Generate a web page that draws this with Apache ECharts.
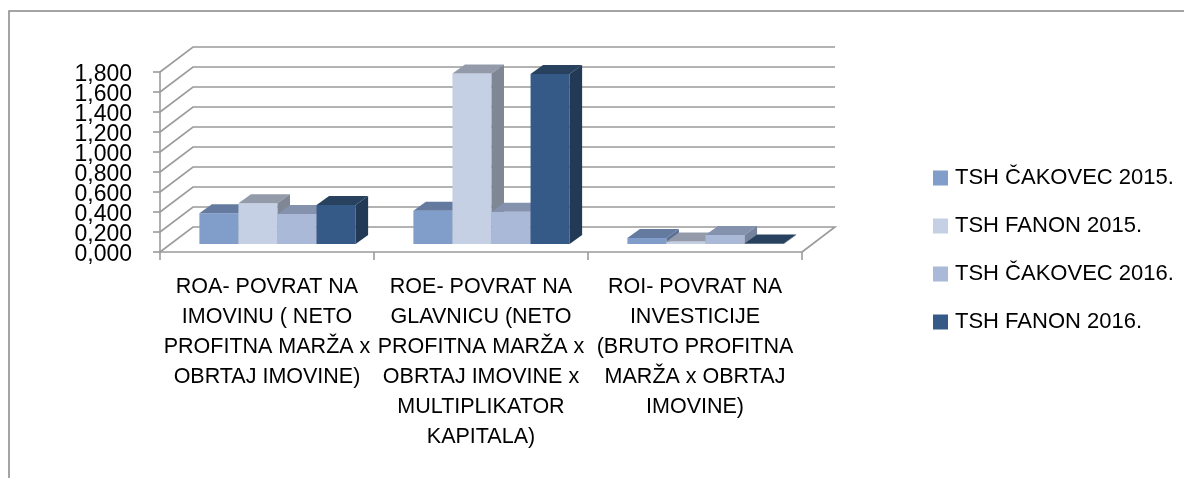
<!DOCTYPE html>
<html>
<head>
<meta charset="utf-8">
<script src="https://cdn.jsdelivr.net/npm/echarts@6/dist/echarts.min.js"></script>
<style>
  html, body {margin: 0; padding: 0; background: #fff;}
  #chart {width: 1184px; height: 478px;}
</style>
</head>
<body>
<div id="chart"></div>
<script>
// data
const categories = [
  'ROA- POVRAT NA\nIMOVINU ( NETO\nPROFITNA MARŽA x\nOBRTAJ IMOVINE)',
  'ROE- POVRAT NA\nGLAVNICU (NETO\nPROFITNA MARŽA x\nOBRTAJ IMOVINE x\nMULTIPLIKATOR\nKAPITALA)',
  'ROI- POVRAT NA\nINVESTICIJE\n(BRUTO PROFITNA\nMARŽA x OBRTAJ\nIMOVINE)'
];
const seriesNames = ['TSH ČAKOVEC 2015.', 'TSH FANON 2015.', 'TSH ČAKOVEC 2016.', 'TSH FANON 2016.'];
const cakovec2015 = [0.308, 0.333, 0.06];
const fanon2015 = [0.407, 1.705, 0.025];
const cakovec2016 = [0.300, 0.323, 0.09];
const fanon2016 = [0.390, 1.700, 0.004];
const yTicks = [0, 0.2, 0.4, 0.6, 0.8, 1.0, 1.2, 1.4, 1.6, 1.8];

const values = [cakovec2015, fanon2015, cakovec2016, fanon2016];
// front, top, side colours of each bar
const palette = [
  ['#819dc9', '#647b9f', '#5b7094'],
  ['#c5d0e4', '#939bab', '#7f8694'],
  ['#a9b9d7', '#8492ad', '#76839c'],
  ['#365a88', '#27415f', '#233a57']
];

const WALL = [33, -25];   // depth of the 3d box
const FRONT = [10.5, -8]; // where bars start in depth
const DEPTH = [12.5, -9]; // bar depth
const GRID_COLOR = '#9b9b9b';
const FONT = 'Liberation Sans';

const myChart = echarts.init(document.getElementById('chart'));

// back wall / floor lines plus the value labels (axis would hide the crowded ones)
function wallRender(params, api) {
  const cs = params.coordSys;
  const v = api.value(1);
  const y = api.coord([0, v])[1];
  const x0 = cs.x, x1 = cs.x + cs.width;
  const pts = [[x0, y], [x0 + WALL[0], y + WALL[1]], [x1 + WALL[0], y + WALL[1]]];
  if (v === 0) pts.push([x1, y]);
  return {
    type: 'group',
    children: [
      {
        type: 'polyline',
        shape: {points: pts},
        style: {stroke: GRID_COLOR, lineWidth: 1.6, fill: null}
      },
      {
        type: 'text',
        x: x0 - 28,
        y: y + 3,
        style: {
          text: v.toFixed(3).replace('.', ','),
          align: 'right',
          verticalAlign: 'middle',
          font: '23px "Liberation Sans"',
          fill: '#000'
        }
      }
    ]
  };
}

function barRender(sIdx) {
  return function (params, api) {
    const ci = api.value(0);
    const v = api.value(1);
    const base = api.coord([ci, 0]);
    const top = api.coord([ci, v]);
    const band = api.size([1, 0])[0];
    const w = band * 0.73 / 4;
    const x0 = base[0] + FRONT[0] - 2 * w + sIdx * w;
    const x1 = x0 + w;
    const yb = base[1] + FRONT[1];
    const yt = top[1] + FRONT[1];
    const c = palette[sIdx];
    return {
      type: 'group',
      children: [
        {type: 'rect', shape: {x: x0, y: yt, width: w, height: yb - yt}, style: {fill: c[0]}},
        {
          type: 'polygon',
          shape: {points: [[x0, yt], [x1, yt], [x1 + DEPTH[0], yt + DEPTH[1]], [x0 + DEPTH[0], yt + DEPTH[1]]]},
          style: {fill: c[1]}
        },
        {
          type: 'polygon',
          shape: {points: [[x1, yt], [x1, yb], [x1 + DEPTH[0], yb + DEPTH[1]], [x1 + DEPTH[0], yt + DEPTH[1]]]},
          style: {fill: c[2]}
        }
      ]
    };
  };
}

myChart.setOption({
  animation: false,
  backgroundColor: '#fff',
  textStyle: {fontFamily: FONT},
  graphic: [{
    type: 'rect',
    shape: {x: 9, y: 11, width: 1200, height: 500},
    style: {fill: null, stroke: '#878787', lineWidth: 1.5},
    silent: true
  }],
  legend: {
    data: seriesNames,
    orient: 'vertical',
    left: 928,
    top: 161,
    icon: 'rect',
    itemWidth: 15,
    itemHeight: 15,
    itemGap: 24,
    textStyle: {fontSize: 22, color: '#000', lineHeight: 24, padding: [0, 0, 0, 2], fontFamily: FONT}
  },
  grid: {
    left: 160,
    right: 1184 - 802,
    top: 72,
    bottom: 478 - 252,
    outerBoundsMode: 'none'
  },
  xAxis: {
    type: 'category',
    data: categories,
    axisLine: {show: true, lineStyle: {color: GRID_COLOR, width: 1.6}},
    axisTick: {show: true, length: 8, alignWithLabel: false, lineStyle: {color: GRID_COLOR, width: 1.6}},
    axisLabel: {interval: 0, margin: 20, fontSize: 21.5, lineHeight: 30, color: '#000', fontFamily: FONT},
    splitLine: {show: false}
  },
  yAxis: {
    type: 'value',
    min: 0,
    max: 1.8,
    interval: 0.2,
    axisLine: {show: true, lineStyle: {color: GRID_COLOR, width: 1.6}},
    axisTick: {show: true, length: 7, lineStyle: {color: GRID_COLOR, width: 1.6}},
    axisLabel: {show: false},
    splitLine: {show: false}
  },
  series: [
    {
      name: 'wall',
      type: 'custom',
      z: 1,
      silent: true,
      renderItem: wallRender,
      encode: {x: 0, y: 1},
      data: yTicks.map(v => [0, v])
    }
  ].concat(seriesNames.map((name, i) => ({
    name,
    type: 'custom',
    z: 2 + i,
    itemStyle: {color: palette[i][0]},
    renderItem: barRender(i),
    encode: {x: 0, y: 1},
    data: values[i].map((v, ci) => [ci, v])
  })))
});
</script>
</body>
</html>
